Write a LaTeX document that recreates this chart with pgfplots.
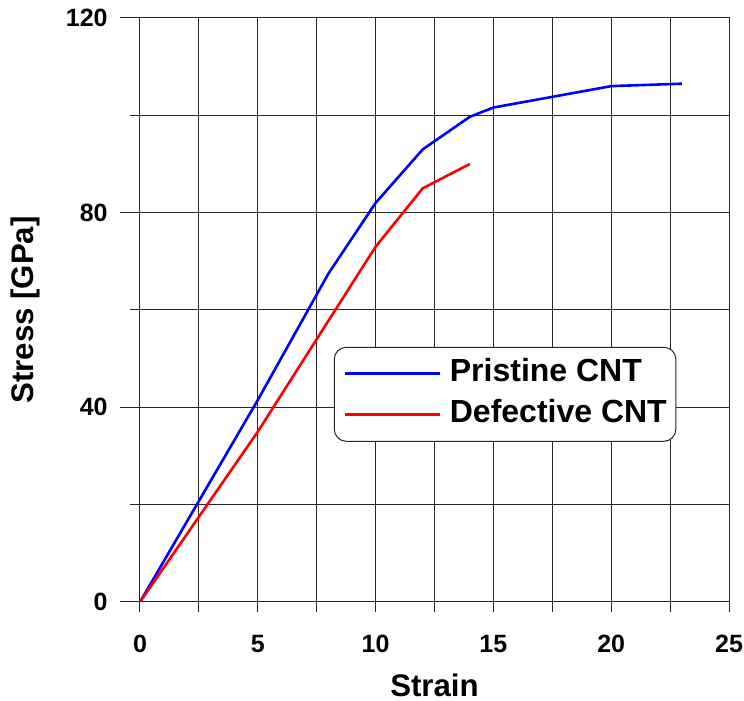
\documentclass[border=0pt]{standalone}
\usepackage{fontspec}
\setmainfont{Liberation Sans}
\usepackage{pgfplots}
\pgfplotsset{compat=1.18}

\begin{document}
\begin{tikzpicture}
\begin{axis}[
    scale only axis,
    width=294.5pt, height=292pt,
    xmin=0, xmax=25, ymin=0, ymax=120,
    xtick={0,5,...,25},
    minor xtick={2.5,7.5,...,22.5},
    ytick={0,40,80,120},
    minor ytick={20,60,100},
    tick pos=left,
    grid=both,
    grid style={black!85, line width=0.5pt},
    minor grid style={black!85, line width=0.5pt},
    major grid style={black!85, line width=0.5pt},
    axis line style={black!85, line width=0.5pt},
    tick align=outside,
    major tick length=5pt,
    minor tick length=5pt,
    tick style={black!85, line width=0.5pt},
    extra y ticks={0,40,80,120},
    extra y tick labels={},
    extra y tick style={major tick length=10pt, grid=none},
    /pgf/number format/assume math mode=true,
    ticklabel style={font=\bfseries\fontsize{12.5}{15}\selectfont, inner sep=0pt},
    yticklabel shift=11pt,
    xticklabel shift=11.5pt,
    xlabel={Strain},
    ylabel={Stress [GPa]},
    label style={font=\bfseries\fontsize{15.6}{18}\selectfont},
    xlabel style={at={([yshift=-41.5pt]axis description cs:0.5,0)}, anchor=center},
    ylabel style={at={([xshift=-57.5pt]axis description cs:0,0.5)}, anchor=center},
    legend image code/.code={\draw[#1] (0pt,0pt) -- (47.5pt,0pt);},
    legend cell align=left,
    legend style={
      at={(0.329,0.437)}, anchor=north west,
      draw=black!85, line width=0.5pt, rounded corners=6pt, fill=white,
      inner xsep=4.5pt, inner ysep=5.75pt,
      font=\bfseries\fontsize{16}{19}\selectfont,
      row sep=5.5pt, column sep=4.5pt,
      nodes={inner sep=0pt, text height=11.5pt, text depth=3.5pt},
    },
  ]

  \addplot[blue, line width=1.3pt] coordinates {
    (0,0) (5,41.5) (8,67.5) (10,82) (12,93) (14,99.7) (15,101.6) (20,106) (23,106.5)
  };
  \addlegendentry{Pristine CNT}

  \addplot[red, line width=1.3pt] coordinates {
    (0,0) (5,35) (10,73) (12,85) (14,90)
  };
  \addlegendentry{Defective CNT}

\end{axis}
\pgfresetboundingbox
\useasboundingbox (-70pt,-49.5pt) rectangle (302pt,301pt);
\end{tikzpicture}
\end{document}
